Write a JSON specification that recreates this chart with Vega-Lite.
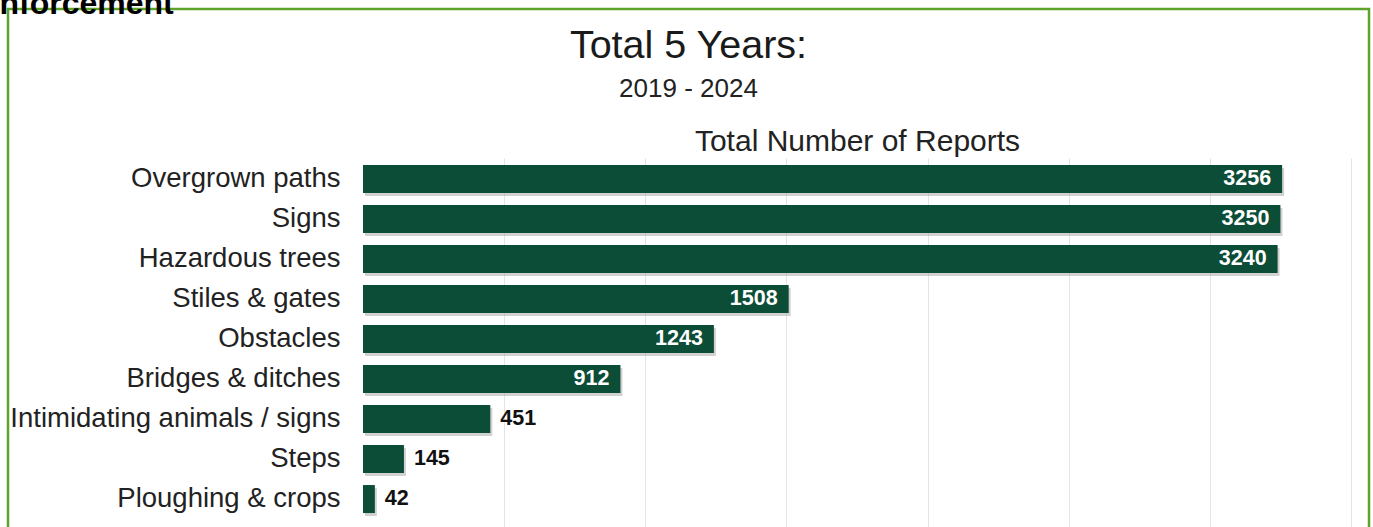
{
  "$schema": "https://vega.github.io/schema/vega-lite/v6.json",
  "autosize": {"type": "none"},
  "padding": {"left": 8, "top": 9, "right": 4, "bottom": 0},
  "width": 1361,
  "height": 530,
  "background": "white",
  "config": {
    "view": {"stroke": "#5ea32a", "strokeWidth": 2.5},
    "font": "Liberation Sans"
  },
  "title": {
    "text": "Total 5 Years:",
    "subtitle": "2019 - 2024",
    "anchor": "middle",
    "frame": "group",
    "fontSize": 39.5,
    "fontWeight": "normal",
    "color": "#1a1a1a",
    "subtitleFontSize": 26,
    "subtitleColor": "#222222",
    "subtitlePadding": 10,
    "offset": -116
  },
  "data": {
    "values": [
      {"issue": "Overgrown paths", "count": 3256},
      {"issue": "Signs", "count": 3250},
      {"issue": "Hazardous trees", "count": 3240},
      {"issue": "Stiles & gates", "count": 1508},
      {"issue": "Obstacles", "count": 1243},
      {"issue": "Bridges & ditches", "count": 912},
      {"issue": "Intimidating animals / signs", "count": 451},
      {"issue": "Steps", "count": 145},
      {"issue": "Ploughing & crops", "count": 42}
    ]
  },
  "encoding": {
    "y": {
      "field": "issue",
      "type": "nominal",
      "sort": null,
      "scale": {"range": [149, 519], "paddingInner": 0.3, "paddingOuter": 0.275, "align": 0.32},
      "axis": {
        "title": "nforcement",
        "titleAngle": 0,
        "titleX": -9,
        "titleY": 4,
        "titleAlign": "left",
        "titleBaseline": "alphabetic",
        "titleFontSize": 32,
        "titleFontWeight": "bold",
        "titleColor": "#000000",
        "labelFontSize": 27.5,
        "labelColor": "#222222",
        "labelPadding": -332,
        "labelLimit": 0,
        "ticks": false,
        "domain": false,
        "grid": false
      }
    },
    "x": {
      "field": "count",
      "type": "quantitative",
      "scale": {"domain": [0, 3500], "range": [355, 1343]},
      "axis": {
        "orient": "top",
        "title": "Total Number of Reports",
        "titleFontSize": 30,
        "titleFontWeight": "normal",
        "titleColor": "#222222",
        "titleY": 141,
        "titleBaseline": "alphabetic",
        "labels": false,
        "ticks": false,
        "domain": false,
        "grid": true,
        "gridColor": "#e4e4e4",
        "values": [500, 1000, 1500, 2000, 2500, 3000, 3500]
      }
    }
  },
  "layer": [
    {"mark": {"type": "bar", "color": "#9a9a9a", "opacity": 0.45, "xOffset": 2, "yOffset": 3}},
    {"mark": {"type": "bar", "color": "#0b4d36"}},
    {
      "transform": [{"filter": "datum.count >= 900"}],
      "mark": {"type": "text", "align": "right", "dx": -11, "color": "#ffffff", "fontWeight": "bold", "fontSize": 21.5},
      "encoding": {"text": {"field": "count", "type": "quantitative"}}
    },
    {
      "transform": [{"filter": "datum.count < 900"}],
      "mark": {"type": "text", "align": "left", "dx": 10, "color": "#111111", "fontWeight": "bold", "fontSize": 21.5},
      "encoding": {"text": {"field": "count", "type": "quantitative"}}
    }
  ]
}
